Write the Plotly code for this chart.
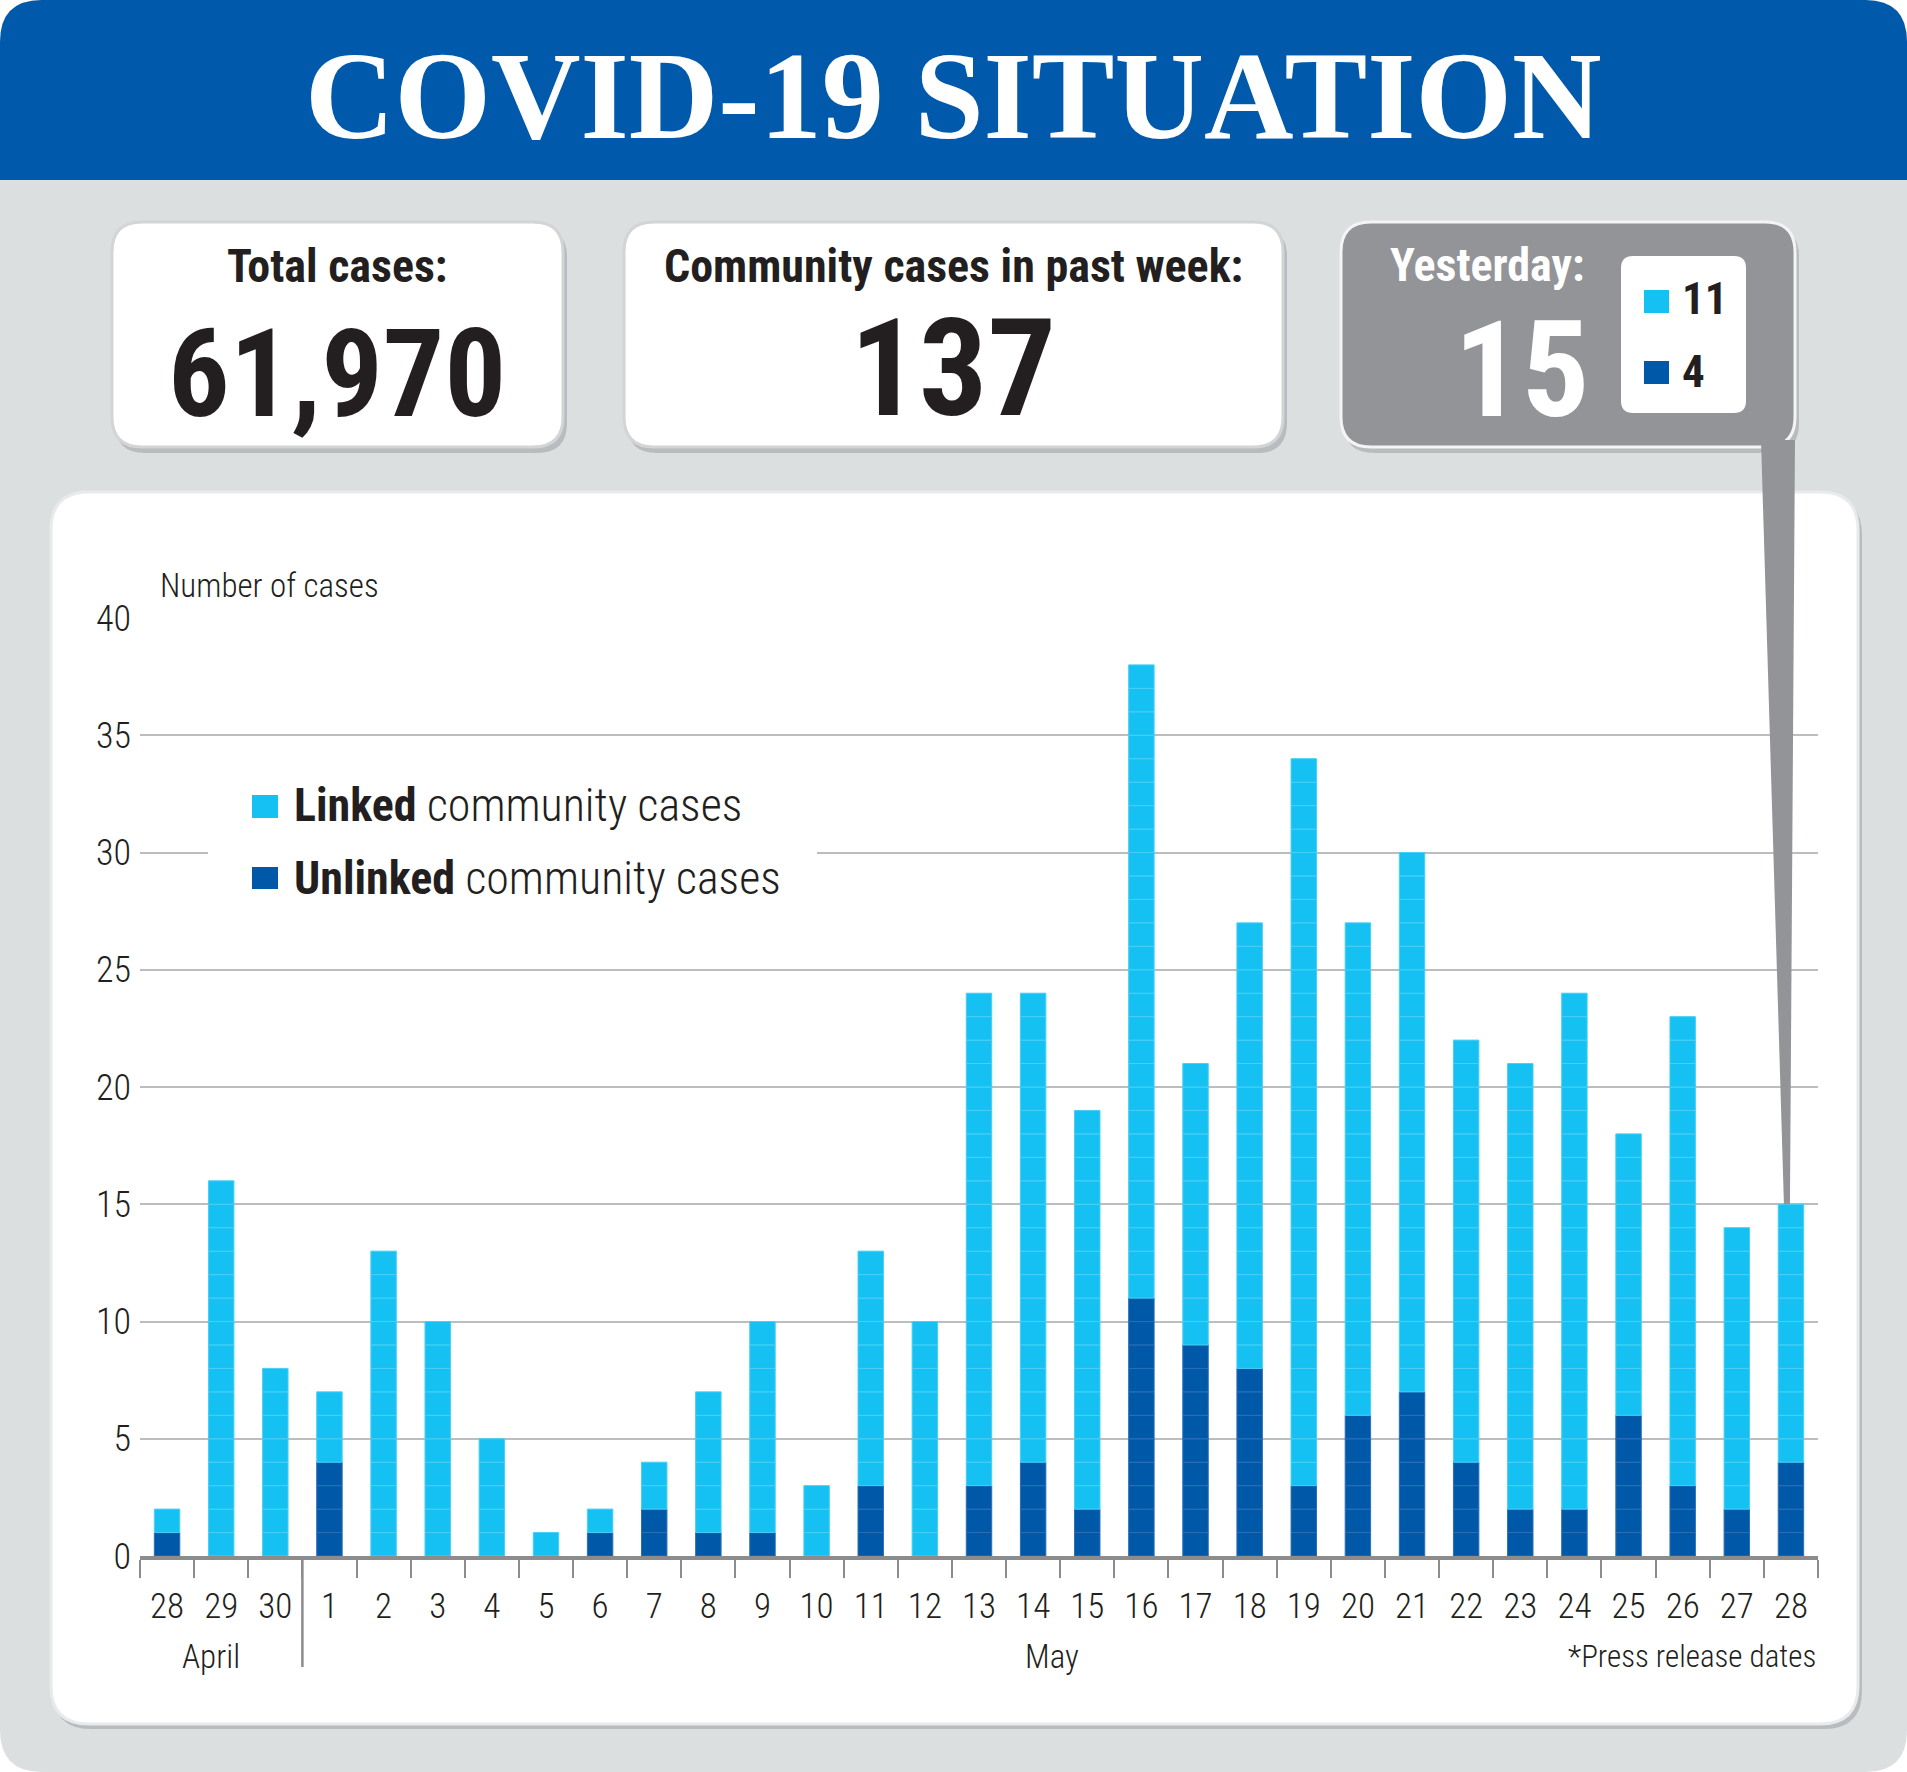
import plotly.graph_objects as go

# ---------------- data ----------------
day_labels = ["28", "29", "30", "1", "2", "3", "4", "5", "6", "7", "8", "9", "10", "11",
              "12", "13", "14", "15", "16", "17", "18", "19", "20", "21", "22", "23",
              "24", "25", "26", "27", "28"]
month_names = ["April", "May"]
month_day_counts = [3, 28]
linked_cases = [1, 16, 8, 3, 13, 10, 5, 1, 1, 2, 6, 9, 3, 10, 10, 21, 20, 17, 27, 12,
                19, 31, 21, 23, 18, 19, 22, 12, 20, 12, 11]
unlinked_cases = [1, 0, 0, 4, 0, 0, 0, 0, 1, 2, 1, 1, 0, 3, 0, 3, 4, 2, 11, 9,
                  8, 3, 6, 7, 4, 2, 2, 6, 3, 2, 4]
y_ticks = [0, 5, 10, 15, 20, 25, 30, 35, 40]

title_text = "COVID-19 SITUATION"
total_cases_label = "Total cases:"
total_cases_value = "61,970"
week_label = "Community cases in past week:"
week_value = 137
yesterday_label = "Yesterday:"
yesterday_linked = 11
yesterday_unlinked = 4
footnote = "*Press release dates"
y_title = "Number of cases"

# ---------------- style ----------------
FW, FH = 1907, 1772
PL, PR, PT, PB = 140, 1818, 618, 1556
NARROW = "Roboto Condensed, Liberation Sans Narrow, DejaVu Sans Condensed, sans-serif"
SERIF = "Liberation Serif, DejaVu Serif, serif"
INK = "#231f20"
CYAN = "#15c1f2"
CYAN_LINE = "#48cff5"
BLUE = "#0058a8"
BLUE_LINE = "#2a6fb6"
HEADER = "#0059ab"
BG = "#dcdfe0"
GREYBOX = "#939498"
GRID = "#bcbdbf"
AXIS = "#8c8c8c"


def px(x):
    return (x - PL) / (PR - PL)


def py(y):
    return (PB - y) / (PB - PT)


def P(x, y):
    return f"{px(x):.5f},{py(y):.5f}"


def rrect(x0, y0, x1, y1, r, tl=True, tr=True, br=True, bl=True):
    s = f"M {P(x0 + (r if tl else 0), y0)} "
    s += f"L {P(x1 - (r if tr else 0), y0)} "
    if tr:
        s += f"Q {P(x1, y0)} {P(x1, y0 + r)} "
    s += f"L {P(x1, y1 - (r if br else 0))} "
    if br:
        s += f"Q {P(x1, y1)} {P(x1 - r, y1)} "
    s += f"L {P(x0 + (r if bl else 0), y1)} "
    if bl:
        s += f"Q {P(x0, y1)} {P(x0, y1 - r)} "
    s += f"L {P(x0, y0 + (r if tl else 0))} "
    if tl:
        s += f"Q {P(x0, y0)} {P(x0 + r, y0)} "
    return s + "Z"


def shape_path(path, fill, line_color=None, line_width=0, layer="below"):
    return dict(type="path", xref="paper", yref="paper", path=path, fillcolor=fill,
                line=dict(color=line_color or fill, width=line_width), layer=layer)


def ann(text, x, y, size, color=INK, family=NARROW, xanchor="center", yanchor="middle", weight=None):
    font = dict(family=family, size=size, color=color)
    if weight:
        font["weight"] = weight
    return dict(text=text, x=px(x), y=py(y), xref="paper", yref="paper", showarrow=False,
                xanchor=xanchor, yanchor=yanchor, font=font)


# ---------------- bars (one segment per case) ----------------
n = len(day_labels)
ux, ub, lx, lb = [], [], [], []
for i in range(n):
    for k in range(unlinked_cases[i]):
        ux.append(i)
        ub.append(k)
    for k in range(linked_cases[i]):
        lx.append(i)
        lb.append(unlinked_cases[i] + k)

fig = go.Figure()
fig.add_trace(go.Bar(x=ux, y=[1] * len(ux), base=ub, width=0.47, name="Unlinked community cases",
                     marker=dict(color=BLUE, line=dict(color=BLUE_LINE, width=1)), showlegend=False))
fig.add_trace(go.Bar(x=lx, y=[1] * len(lx), base=lb, width=0.47, name="Linked community cases",
                     marker=dict(color=CYAN, line=dict(color=CYAN_LINE, width=1)), showlegend=False))

# ---------------- decorations ----------------
shapes = []
shapes.append(shape_path(rrect(0, 0, FW, FH, 42), BG))
shapes.append(shape_path(rrect(0, 0, FW, 180, 42, br=False, bl=False), HEADER))
# stat boxes
for (x0, x1, fill) in [(112, 563, "white"), (624, 1283, "white"), (1341, 1795, GREYBOX)]:
    shapes.append(shape_path(rrect(x0 + 3, 227, x1 + 4, 453, 30), "#b9bcbe"))
    shapes.append(shape_path(rrect(x0, 222, x1, 447, 30), fill, "#f4f4f4" if fill == GREYBOX else "#d2d4d6", 3))
shapes.append(shape_path(rrect(1621, 256, 1746, 413, 12), "white"))
shapes.append(shape_path(f"M {P(1644, 290)} L {P(1669, 290)} L {P(1669, 313)} L {P(1644, 313)} Z", CYAN))
shapes.append(shape_path(f"M {P(1644, 361)} L {P(1669, 361)} L {P(1669, 384)} L {P(1644, 384)} Z", BLUE))
# chart panel
shapes.append(shape_path(rrect(53, 497, 1862, 1729, 38), "#b9bcbe"))
shapes.append(shape_path(rrect(51, 492, 1858, 1724, 38), "white", "#e9eaeb", 3))
# legend
shapes.append(shape_path(f"M {P(208, 765)} L {P(817, 765)} L {P(817, 925)} L {P(208, 925)} Z", "white", layer="above"))
shapes.append(shape_path(f"M {P(252, 795)} L {P(278, 795)} L {P(278, 818)} L {P(252, 818)} Z", CYAN, layer="above"))
shapes.append(shape_path(f"M {P(252, 867)} L {P(278, 867)} L {P(278, 889)} L {P(252, 889)} Z", BLUE, layer="above"))
# callout wedge pointing at last bar top
last = n - 1
tip_x = PL + (PR - PL) * (last + 0.5) / n - 4
tip_y = PB - (PB - PT) * (linked_cases[last] + unlinked_cases[last]) / y_ticks[-1]
shapes.append(shape_path(f"M {P(1761, 440)} L {P(1795, 440)} L {P(tip_x + 3, tip_y)} L {P(tip_x - 3, tip_y)} Z",
                         GREYBOX, layer="above"))
# April / May separator
sep = month_day_counts[0] - 0.5
shapes.append(dict(type="line", xref="x", yref="paper", x0=sep, x1=sep, y0=0, y1=py(1667),
                   line=dict(color=AXIS, width=2.5), layer="above"))

annotations = [
    ann(f"<b>{title_text}</b>", 953, 96, 124, "white", SERIF),
    ann(f"<b>{total_cases_label}</b>", 337, 266, 46),
    ann(f"<b>{total_cases_value}</b>", 337, 374, 122),
    ann(f"<b>{week_label}</b>", 953, 266, 46),
    ann(f"<b>{week_value}</b>", 953, 369, 136),
    ann(f"<b>{yesterday_label}</b>", 1487, 265, 46, "white"),
    ann(f"<b>{yesterday_linked + yesterday_unlinked}</b>", 1521, 370, 134, "white"),
    ann(f"<b>{yesterday_linked}</b>", 1680, 299, 45, xanchor="left"),
    ann(f"<b>{yesterday_unlinked}</b>", 1680, 371, 45, xanchor="left"),
    ann(y_title, 158, 585, 33, xanchor="left", weight=300),
    ann("<b>Linked</b> community cases", 292, 805, 46, xanchor="left", weight=300),
    ann("<b>Unlinked</b> community cases", 292, 878, 46, xanchor="left", weight=300),
    ann(footnote, PR, 1656, 31, xanchor="right", weight=300),
]
start = 0
for name, cnt in zip(month_names, month_day_counts):
    mid = start + (cnt - 1) / 2
    annotations.append(dict(text=name, x=mid, y=py(1656), xref="x", yref="paper", showarrow=False,
                            xanchor="center", yanchor="middle",
                            xshift=-10 if cnt < 5 else -8,
                            font=dict(family=NARROW, size=33, color=INK, weight=300)))
    start += cnt

fig.update_layout(
    width=FW, height=FH, autosize=False,
    margin=dict(l=PL, r=FW - PR, t=PT, b=FH - PB, pad=0),
    paper_bgcolor="white", plot_bgcolor="rgba(0,0,0,0)",
    barmode="overlay", bargap=0.5,
    shapes=shapes, annotations=annotations,
    xaxis=dict(range=[-0.5, n - 0.5], tickmode="array", tickvals=list(range(n)), ticktext=day_labels,
               ticks="outside", ticklen=16, tickcolor="rgba(0,0,0,0)",
               tickfont=dict(family=NARROW, size=35, color=INK, weight=300),
               showline=True, linecolor=AXIS, linewidth=4, showgrid=False, zeroline=False,
               minor=dict(tickmode="array", tickvals=[i - 0.5 for i in range(n + 1)],
                          ticks="outside", ticklen=18, tickwidth=2, tickcolor=AXIS, showgrid=False),
               fixedrange=True),
    yaxis=dict(range=[0, y_ticks[-1]], tickmode="array", tickvals=y_ticks,
               ticks="", ticklabelstandoff=8,
               tickfont=dict(family=NARROW, size=36, color=INK, weight=300),
               showgrid=True, gridcolor=GRID, gridwidth=2, zeroline=False, showline=False,
               fixedrange=True),
)

fig.write_html("out.html", config={"displayModeBar": False},
               post_script="document.body.style.margin='0';document.body.style.overflow='hidden';")
